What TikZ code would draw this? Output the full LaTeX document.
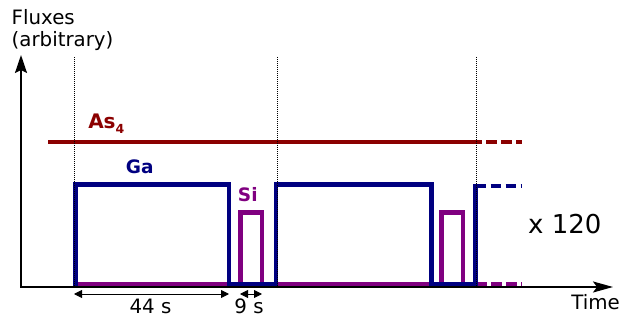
\documentclass[tikz,border=0pt]{standalone}
\usepackage{fontspec}
\setmainfont{DejaVu Sans}
\usetikzlibrary{arrows.meta}
\definecolor{asred}{RGB}{139,0,0}
\definecolor{ganavy}{RGB}{0,0,128}
\definecolor{sipurple}{RGB}{128,0,128}
\begin{document}
\begin{tikzpicture}[x=1pt,y=-1pt,
  axisline/.style={line width=2pt,black},
  guide/.style={line width=0.8pt,black,dash pattern=on 1pt off 1pt},
  asline/.style={line width=4.8pt,asred},
  galine/.style={line width=4.5pt,ganavy,line join=miter},
  siline/.style={line width=4.5pt,sipurple,line join=miter},
  contd/.style={dash pattern=on 10.5pt off 4.5pt},
  dimline/.style={line width=0.9pt,black,{Triangle[length=8pt,width=8pt]}-{Triangle[length=8pt,width=8pt]}},
  lbl/.style={inner sep=0pt,anchor=base,font=\fontsize{19.8}{22}\selectfont},
  blbl/.style={inner sep=0pt,anchor=base,font=\fontsize{18.5}{20}\selectfont\bfseries}]
\useasboundingbox (0,0) rectangle (622,320);
% axes
\coordinate (origin) at (21,287);
\coordinate (ytip) at (21,55);
\coordinate (xstart) at (20,287);
\coordinate (xtip) at (613,287);
% As4
\coordinate (as0) at (48,142);
\coordinate (as1) at (471,142);
\coordinate (as2) at (522,142);
\draw[asline] (as0) -- (as1);
\draw[asline,contd] (as1) -- (as2);
% Si
\draw[siline] (74,284) -- (240.3,284) -- (240.3,212.5) -- (262,212.5) -- (262,284)
  -- (441.7,284) -- (441.7,212.5) -- (463,212.5) -- (463,284) -- (478,284);
\coordinate (si1) at (476,284);
\coordinate (si2) at (522,284);
\draw[siline,contd] (si1) -- (si2);
% Ga
\draw[galine] (75.5,286) -- (75.5,184.5) -- (229,184.5) -- (229,284) -- (276,284)
  -- (276,184.5) -- (431.5,184.5) -- (431.5,284) -- (475.5,284) -- (475.5,186) -- (480,186);
\coordinate (ga1) at (475.5,186);
\coordinate (ga2) at (522,186);
\draw[galine,contd] (ga1) -- (ga2);
% axes drawn
\draw[axisline,-{Stealth[length=18pt,width=12pt,inset=3pt]}] (origin) -- (ytip);
\draw[axisline,-{Stealth[length=20pt,width=11pt,inset=4pt]}] (xstart) -- (xtip);
% guides
\coordinate (g1t) at (74,57); \coordinate (g1b) at (74,287);
\coordinate (g2t) at (277,57); \coordinate (g2b) at (277,287);
\coordinate (g3t) at (476,57); \coordinate (g3b) at (476,287);
\draw[guide] (g1t) -- (g1b);
\draw[guide] (g2t) -- (g2b);
\draw[guide] (g3t) -- (g3b);
% dimensions
\coordinate (d1a) at (74,294); \coordinate (d1b) at (229,294);
\coordinate (d2a) at (240,294); \coordinate (d2b) at (262,294);
\draw[dimline] (d1a) -- (d1b);
\draw[dimline] (d2a) -- (d2b);
% labels
\node[lbl,anchor=base west] (fl1) at (11.5,24.3) {Fluxes};
\node[lbl,anchor=base west] (fl2) at (11.5,46.7) {(arbitrary)};
\node[lbl] (time) at (595.5,310) {Time};
\node[lbl,font=\fontsize{26}{28}\selectfont] (rep) at (564.8,233.3) {x 120};
\node[lbl] (t44) at (150.5,313.3) {44 s};
\node[lbl] (t9) at (249,313.3) {9 s};
\node[blbl,text=asred,font=\fontsize{20}{20}\selectfont\bfseries] (aslbl) at (106.3,129) {As\raisebox{-4.3pt}{\fontsize{12.5}{13}\selectfont\bfseries 4}};
\node[blbl,text=ganavy] (galbl) at (139.7,174) {Ga};
\node[blbl,text=sipurple] (silbl) at (247.8,201.7) {Si};
\end{tikzpicture}
\end{document}
